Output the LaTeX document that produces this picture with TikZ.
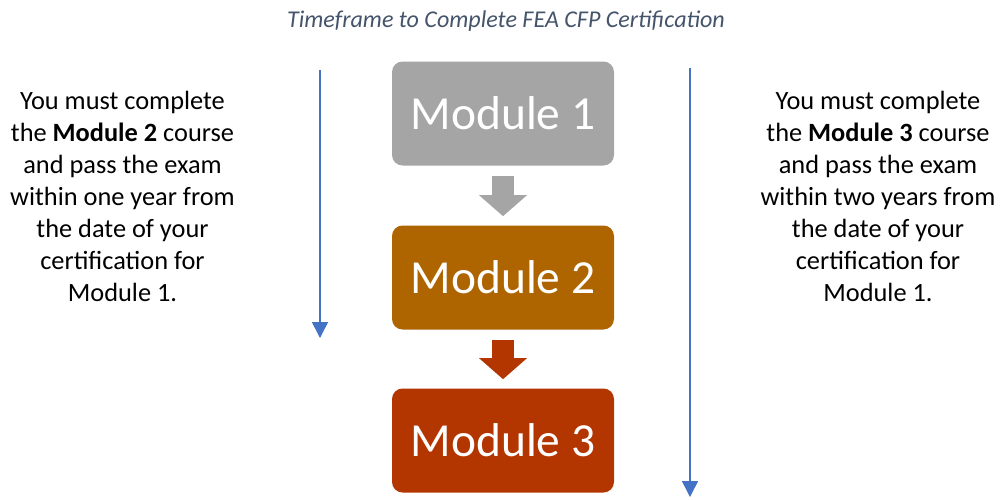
\documentclass[tikz,border=0pt]{standalone}
\usepackage{fontspec}
\setmainfont{Carlito}
\usepackage{tikz}
\usetikzlibrary{arrows.meta,positioning}
\definecolor{modgray}{HTML}{A5A5A5}
\definecolor{modbrown}{HTML}{AE6500}
\definecolor{modred}{HTML}{B33500}
\definecolor{lineblue}{HTML}{4472C4}
\definecolor{titleblue}{HTML}{44546A}

\begin{document}
\begin{tikzpicture}
	\useasboundingbox (0,0) rectangle (20,-9.98);
	\node[font=\fontsize{13.7}{16}\selectfont\itshape,text=titleblue] (title) at (10.12,-0.42) {Timeframe to Complete FEA CFP Certification};
	\begin{scope}[every node/.style={rounded corners=6pt,minimum width=4.44cm,minimum height=2.08cm,text=white,font=\fontsize{27}{32}\selectfont}]
		\node[fill=modgray] (m1) at (10.06,-2.27) {Module 1};
		\node[fill=modbrown] (m2) at (10.06,-5.55) {Module 2};
		\node[fill=modred] (m3) at (10.06,-8.81) {Module 3};
	\end{scope}
	\begin{scope}[line width=0.44cm,shorten <=0.2cm,shorten >=0.18cm]
		\draw[modgray,-{Triangle[length=0.42cm,width=0.96cm,line width=0pt]}] (m1) -- (m2);
		\draw[modred,-{Triangle[length=0.42cm,width=0.96cm,line width=0pt]}] (m2) -- (m3);
	\end{scope}
	\begin{scope}[every node/.style={align=center,font=\fontsize{15}{18.2}\selectfont}]
		\node (left) at (2.45,-3.92) {You must complete\\the \textbf{Module 2} course\\and pass the exam\\within one year from\\the date of your\\certification for\\Module 1.};
		\node (right) at (17.56,-3.92) {You must complete\\the \textbf{Module 3} course\\and pass the exam\\within two years from\\the date of your\\certification for\\Module 1.};
	\end{scope}
	\coordinate (ltop) at (6.40,-1.40);
	\coordinate (lbot) at (6.40,-6.76);
	\coordinate (rtop) at (13.80,-1.36);
	\coordinate (rbot) at (13.80,-9.94);
	\begin{scope}[lineblue,line width=0.85pt]
		\draw[-{Triangle[length=0.32cm,width=0.32cm]}] (ltop) -- (lbot);
		\draw[-{Triangle[length=0.32cm,width=0.32cm]}] (rtop) -- (rbot);
	\end{scope}
\end{tikzpicture}
\end{document}
